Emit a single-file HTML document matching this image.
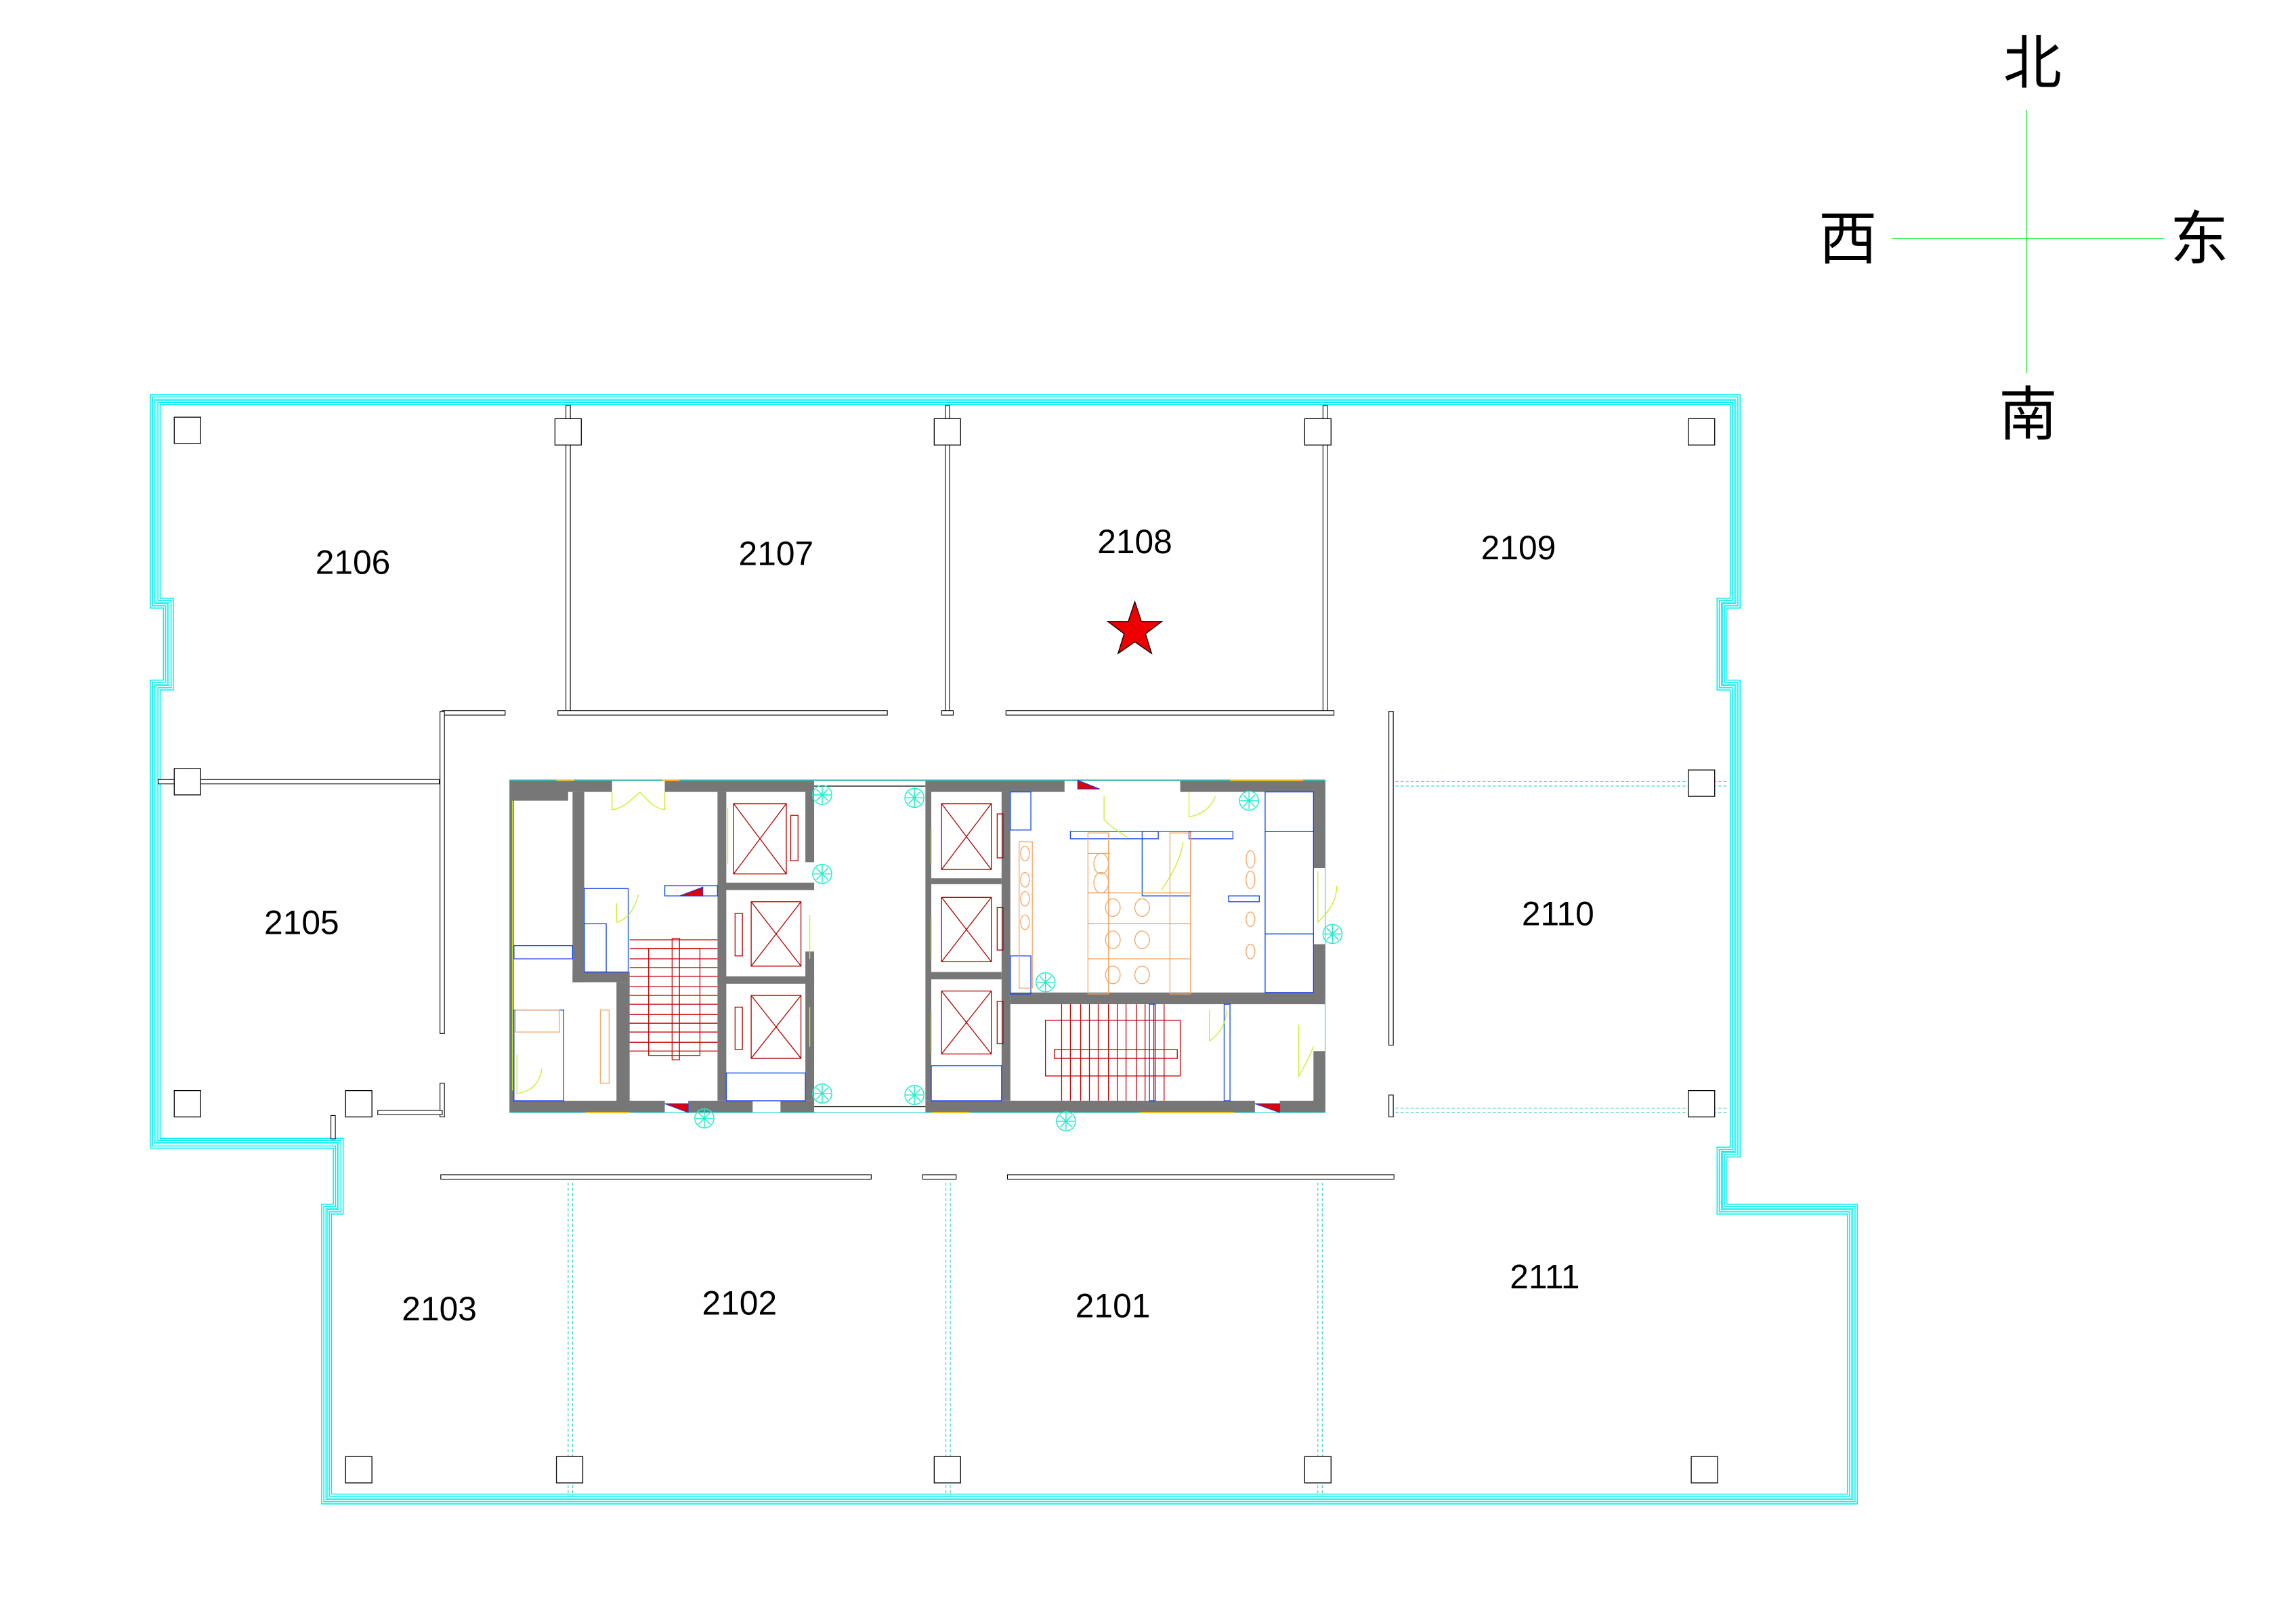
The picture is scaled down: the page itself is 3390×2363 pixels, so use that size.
<!DOCTYPE html>
<html><head><meta charset="utf-8"><style>
html,body{margin:0;padding:0;background:#fff}
svg{display:block}
text{font-family:"Liberation Sans","Noto Sans CJK SC",sans-serif}
</style></head><body>
<svg width="3390" height="2363" viewBox="0 0 1568 1093" preserveAspectRatio="none" xmlns="http://www.w3.org/2000/svg">
<rect width="1600" height="1100" fill="#fff"/>
<g stroke="#22ee44" stroke-width="0.6">
<line x1="1384" y1="75" x2="1384" y2="255"/>
<line x1="1292" y1="163" x2="1478" y2="163"/>
</g>
<g font-family="Noto Serif CJK SC, Noto Sans CJK SC, serif" font-size="40" fill="#000" text-anchor="middle">
<text x="1388" y="57">北</text>
<text x="1262" y="177">西</text>
<text x="1502" y="177">东</text>
<text x="1385" y="297">南</text>
</g>
<g fill="none" stroke-linejoin="miter">
<path d="M106,273 H1185 V412 H1176 V468 H1185 V787 H1176 V826 H1265 V1024 H223 V826 H231 V781 H106 V468 H115 V412 H106 Z" stroke="#00eeee" stroke-width="7.4"/>
<path d="M106,273 H1185 V412 H1176 V468 H1185 V787 H1176 V826 H1265 V1024 H223 V826 H231 V781 H106 V468 H115 V412 H106 Z" stroke="#fff" stroke-width="6"/>
<path d="M106,273 H1185 V412 H1176 V468 H1185 V787 H1176 V826 H1265 V1024 H223 V826 H231 V781 H106 V468 H115 V412 H106 Z" stroke="#00eeee" stroke-width="4.4"/>
<path d="M106,273 H1185 V412 H1176 V468 H1185 V787 H1176 V826 H1265 V1024 H223 V826 H231 V781 H106 V468 H115 V412 H106 Z" stroke="#fff" stroke-width="3"/>
<path d="M106,273 H1185 V412 H1176 V468 H1185 V787 H1176 V826 H1265 V1024 H223 V826 H231 V781 H106 V468 H115 V412 H106 Z" stroke="#00eeee" stroke-width="1.4"/>
<path d="M106,273 H1185 V412 H1176 V468 H1185 V787 H1176 V826 H1265 V1024 H223 V826 H231 V781 H106 V468 H115 V412 H106 Z" stroke="#fff" stroke-width="0.3"/>
</g>
<g fill="#fff" stroke="#000" stroke-width="0.5">
<rect x="386.5" y="277" width="3" height="210"/>
<rect x="645.5" y="277" width="3" height="210"/>
<rect x="903.5" y="277" width="3" height="210"/>
<rect x="381" y="485.5" width="225" height="3"/>
<rect x="643" y="485.5" width="8" height="3"/>
<rect x="687" y="485.5" width="224" height="3"/>
<rect x="302" y="485.5" width="43" height="3"/>
<rect x="300.5" y="486" width="3" height="220"/>
<rect x="108" y="532.5" width="192" height="3"/>
<rect x="300.5" y="740" width="3" height="23"/>
<rect x="258" y="758.5" width="44" height="3"/>
<rect x="301" y="802.5" width="294" height="3"/>
<rect x="630" y="802.5" width="23" height="3"/>
<rect x="688" y="802.5" width="264" height="3"/>
<rect x="948.5" y="486" width="3" height="228"/>
<rect x="948.5" y="748" width="3" height="15"/>
<rect x="226" y="762" width="3" height="16"/>
</g>
<g stroke="#22cccc" stroke-width="0.5" stroke-dasharray="2,1.5" fill="none">
<line x1="953" y1="534" x2="1180" y2="534"/><line x1="953" y1="537" x2="1180" y2="537"/>
<line x1="953" y1="757" x2="1180" y2="757"/><line x1="953" y1="760" x2="1180" y2="760"/>
<line x1="388" y1="808" x2="388" y2="1022"/><line x1="391" y1="808" x2="391" y2="1022"/>
<line x1="646" y1="808" x2="646" y2="1022"/><line x1="649" y1="808" x2="649" y2="1022"/>
<line x1="900" y1="808" x2="900" y2="1022"/><line x1="903" y1="808" x2="903" y2="1022"/>
</g>
<g fill="#fff" stroke="#000" stroke-width="0.6">
<rect x="119" y="285" width="18" height="18"/>
<rect x="379" y="286" width="18" height="18"/>
<rect x="638" y="286" width="18" height="18"/>
<rect x="891" y="286" width="18" height="18"/>
<rect x="1153" y="286" width="18" height="18"/>
<rect x="119" y="525" width="18" height="18"/>
<rect x="1153" y="526" width="18" height="18"/>
<rect x="119" y="745" width="18" height="18"/>
<rect x="236" y="745" width="18" height="18"/>
<rect x="1153" y="745" width="18" height="18"/>
<rect x="236" y="995" width="18" height="18"/>
<rect x="380" y="995" width="18" height="18"/>
<rect x="638" y="995" width="18" height="18"/>
<rect x="891" y="995" width="18" height="18"/>
<rect x="1155" y="995" width="18" height="18"/>
</g>
<g>
<line x1="348" y1="533" x2="905" y2="533" stroke="#000" stroke-width="0.6"/>
<line x1="556" y1="537" x2="632" y2="537" stroke="#000" stroke-width="0.6"/>
<line x1="556" y1="756" x2="632" y2="756" stroke="#000" stroke-width="0.6"/>
<g fill="#777">
<rect x="348" y="533" width="70" height="8"/>
<rect x="454" y="533" width="102" height="8"/>
<rect x="348" y="533" width="3" height="227"/>
<rect x="348" y="533" width="40" height="14"/>
<rect x="391" y="541" width="8" height="130"/>
<rect x="391" y="664" width="39" height="7"/>
<rect x="421" y="671" width="9" height="86"/>
<rect x="348" y="752" width="106" height="8"/>
<rect x="470" y="752" width="44" height="8"/>
<rect x="533" y="752" width="23" height="8"/>
<rect x="490" y="541" width="6" height="211"/>
<rect x="490" y="603" width="66" height="5"/>
<rect x="490" y="667" width="66" height="5"/>
<rect x="550" y="541" width="6" height="48"/>
<rect x="550" y="650" width="6" height="102"/>
<rect x="632" y="533" width="95" height="8"/>
<rect x="806" y="533" width="99" height="8"/>
<rect x="632" y="541" width="4" height="211"/>
<rect x="684" y="541" width="6" height="211"/>
<rect x="636" y="600" width="48" height="4"/>
<rect x="636" y="664" width="48" height="5"/>
<rect x="690" y="678" width="215" height="8"/>
<rect x="897" y="533" width="8" height="60"/>
<rect x="897" y="645" width="8" height="41"/>
<rect x="897" y="718" width="8" height="42"/>
<rect x="632" y="752" width="225" height="8"/>
<rect x="874" y="752" width="31" height="8"/>
</g>
<g fill="none" stroke="#22cccc" stroke-width="0.5">
<rect x="348" y="533" width="557" height="227"/>
</g>
<g fill="none" stroke="#b00000" stroke-width="0.6">
<rect x="501" y="549" width="36" height="48"/><path d="M501,549 L537,597 M537,549 L501,597"/><rect x="540" y="557" width="5" height="31"/>
<rect x="513" y="616" width="34" height="44"/><path d="M513,616 L547,660 M547,616 L513,660"/><rect x="502" y="624" width="5" height="29"/>
<rect x="513" y="680" width="34" height="43"/><path d="M513,680 L547,723 M547,680 L513,723"/><rect x="502" y="688" width="5" height="29"/>
<rect x="643" y="549" width="34" height="45"/><path d="M643,549 L677,594 M677,549 L643,594"/><rect x="681" y="556" width="4" height="30"/>
<rect x="643" y="613" width="34" height="44"/><path d="M643,613 L677,657 M677,613 L643,657"/><rect x="681" y="620" width="4" height="29"/>
<rect x="643" y="677" width="34" height="43"/><path d="M643,677 L677,720 M677,677 L643,720"/><rect x="681" y="684" width="4" height="29"/>
</g>
<g stroke="#c00000" stroke-width="0.6" fill="none">
<path d="M430,642H490M430,648H490M430,655H490M430,661H490M430,667H490M430,674H490M430,680H490M430,686H490M430,693H490M430,699H490M430,705H490M430,712H490M430,718H490"/>
<rect x="459" y="641" width="5" height="83"/>
<path d="M725,686V752M731,686V752M738,686V752M744,686V752M750,686V752M757,686V752M763,686V752M769,686V752M776,686V752M782,686V752M788,686V752M795,686V752"/>
<rect x="720" y="717" width="84" height="6"/>
<rect x="714" y="697" width="92" height="38"/>
<rect x="443" y="648" width="35" height="73"/>
</g>
<g stroke="#1144ee" stroke-width="0.6" fill="none">
<rect x="399" y="607" width="30" height="57"/>
<rect x="399" y="631" width="15" height="33"/>
<rect x="454" y="605" width="36" height="7"/>
<rect x="351" y="646" width="40" height="9"/>
<rect x="351" y="690" width="34" height="62"/>
<rect x="496" y="733" width="54" height="19"/>
<rect x="636" y="728" width="48" height="24"/>
<rect x="690" y="541" width="14" height="26"/>
<rect x="731" y="568" width="60" height="5"/>
<rect x="780" y="568" width="33" height="44"/>
<rect x="812" y="568" width="30" height="5"/>
<rect x="864" y="541" width="33" height="27"/>
<rect x="864" y="568" width="33" height="70"/>
<rect x="864" y="638" width="33" height="40"/>
<rect x="839" y="612" width="21" height="4"/>
<rect x="836" y="686" width="4" height="66"/>
<rect x="785" y="686" width="4" height="66"/>
<rect x="690" y="653" width="14" height="26"/>
</g>
<g stroke="#f5a460" stroke-width="0.6" fill="none">
<rect x="743" y="569" width="14" height="110"/>
<rect x="799" y="569" width="14" height="110"/>
<path d="M743,583H758M743,610H813M743,631H813M743,655H813"/>
<ellipse cx="752" cy="590" rx="5" ry="7"/><ellipse cx="752" cy="603" rx="5" ry="7"/>
<ellipse cx="760" cy="620" rx="5" ry="6"/><ellipse cx="780" cy="620" rx="5" ry="6"/>
<ellipse cx="760" cy="642" rx="5" ry="6"/><ellipse cx="780" cy="642" rx="5" ry="6"/>
<ellipse cx="760" cy="666" rx="5" ry="6"/><ellipse cx="780" cy="666" rx="5" ry="6"/>
<ellipse cx="700" cy="583" rx="3" ry="5"/><ellipse cx="700" cy="601" rx="3" ry="5"/><ellipse cx="700" cy="614" rx="3" ry="5"/><ellipse cx="700" cy="630" rx="3" ry="5"/>
<rect x="696" y="575" width="9" height="100"/>
<ellipse cx="854" cy="587" rx="3" ry="6"/><ellipse cx="854" cy="601" rx="3" ry="6"/>
<ellipse cx="854" cy="628" rx="3" ry="5"/><ellipse cx="854" cy="650" rx="3" ry="5"/>
<rect x="352" y="690" width="30" height="15"/>
<rect x="410" y="690" width="6" height="50"/>
</g>
<g stroke="#c8ee22" stroke-width="0.6" fill="none">
<path d="M418,541V553 Q425,553 437,541M454,541V553 Q447,553 437,541"/>
<path d="M421,617V630 Q432,627 436,611"/>
<path d="M812,541V558 Q825,556 830,544"/>
<path d="M754,544V560 Q760,566 770,572"/>
<path d="M793,608 Q806,590 808,575"/>
<path d="M826,690V711 Q836,705 838,690"/>
<path d="M887,700V735 Q893,725 897,715"/>
<path d="M353,720V747 Q368,745 370,730"/>
<path d="M350,547V745"/>
<path d="M900,595V630 Q913,618 913,605"/>
<path d="M497,552V590 M553,625V655 M553,688V715 M636,566V590 M636,626V655 M636,690V720"/>
</g>
<g fill="#e00000" stroke="#1144ee" stroke-width="0.5">
<path d="M464,612 L480,606 L480,612 Z"/>
<path d="M736,533 L751,539 L736,539 Z"/>
<path d="M454,754 L470,760 L470,754 Z"/>
<path d="M857,754 L874,760 L874,754 Z"/>
</g>
<g fill="none" stroke="#22eecc" stroke-width="0.7">
<g transform="translate(561.5,543)"><circle r="6.5"/><path d="M-6,0H6M0,-6V6M-4,-4L4,4M4,-4L-4,4"/></g>
<g transform="translate(561.5,597)"><circle r="6.5"/><path d="M-6,0H6M0,-6V6M-4,-4L4,4M4,-4L-4,4"/></g>
<g transform="translate(624.5,545)"><circle r="6.5"/><path d="M-6,0H6M0,-6V6M-4,-4L4,4M4,-4L-4,4"/></g>
<g transform="translate(561.5,747)"><circle r="6.5"/><path d="M-6,0H6M0,-6V6M-4,-4L4,4M4,-4L-4,4"/></g>
<g transform="translate(624.5,748)"><circle r="6.5"/><path d="M-6,0H6M0,-6V6M-4,-4L4,4M4,-4L-4,4"/></g>
<g transform="translate(853,547)"><circle r="6.5"/><path d="M-6,0H6M0,-6V6M-4,-4L4,4M4,-4L-4,4"/></g>
<g transform="translate(714,671)"><circle r="6.5"/><path d="M-6,0H6M0,-6V6M-4,-4L4,4M4,-4L-4,4"/></g>
<g transform="translate(910,638)"><circle r="6.5"/><path d="M-6,0H6M0,-6V6M-4,-4L4,4M4,-4L-4,4"/></g>
<g transform="translate(481,764)"><circle r="6.5"/><path d="M-6,0H6M0,-6V6M-4,-4L4,4M4,-4L-4,4"/></g>
<g transform="translate(728,766)"><circle r="6.5"/><path d="M-6,0H6M0,-6V6M-4,-4L4,4M4,-4L-4,4"/></g>
</g>
<g stroke="#f0c020" stroke-width="1">
<line x1="380" y1="533" x2="392" y2="533"/><line x1="452" y1="533" x2="464" y2="533"/>
<line x1="400" y1="760" x2="430" y2="760"/><line x1="778" y1="760" x2="843" y2="760"/>
<line x1="840" y1="533" x2="890" y2="533"/><line x1="636" y1="760" x2="662" y2="760"/>
</g>
</g>
<polygon points="775,411 779.5,424.5 793.5,424.5 782.3,433 786.5,446.5 775,438.5 763.5,446.5 767.7,433 756.5,424.5 770.5,424.5" fill="#ee0000" stroke="#000" stroke-width="0.6"/>
<g font-size="23" fill="#000" text-anchor="middle">
<text x="241" y="392">2106</text>
<text x="530" y="386">2107</text>
<text x="775" y="378">2108</text>
<text x="1037" y="382">2109</text>
<text x="206" y="638">2105</text>
<text x="1064" y="632">2110</text>
<text x="300" y="902">2103</text>
<text x="505" y="898">2102</text>
<text x="760" y="900">2101</text>
<text x="1055" y="880">2111</text>
</g>
</svg>
</body></html>
